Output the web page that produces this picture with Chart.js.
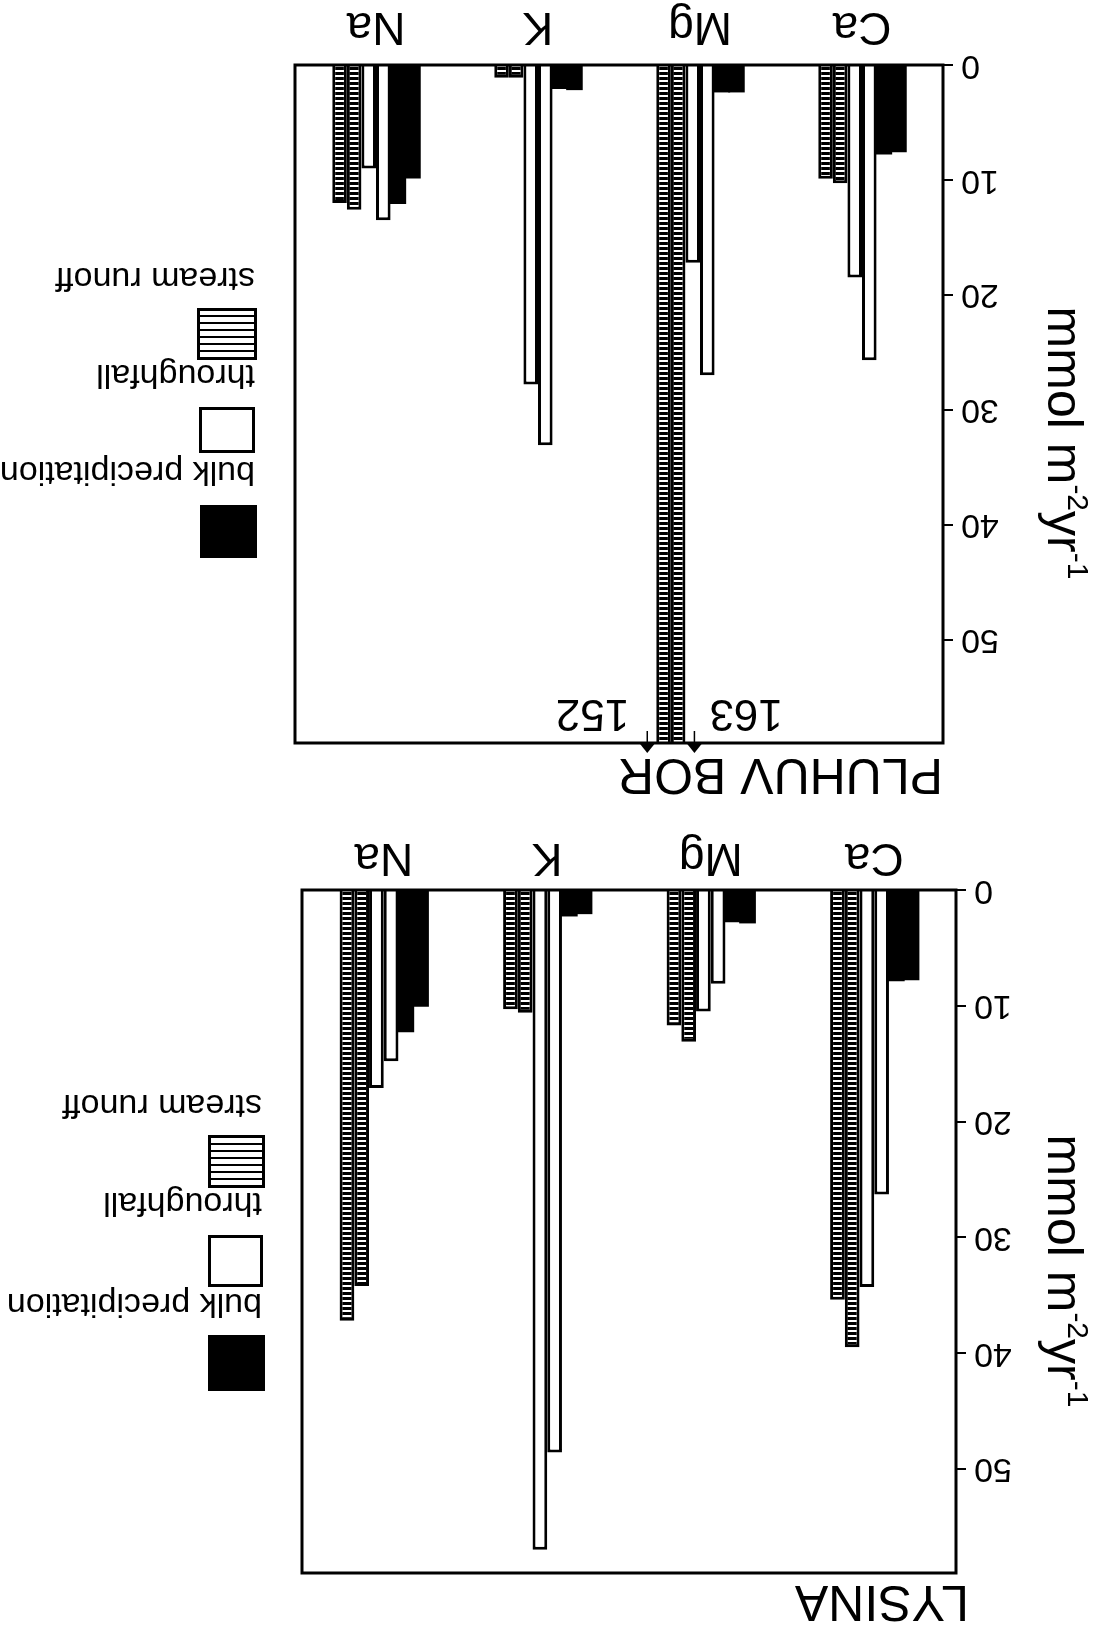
<!DOCTYPE html>
<html><head><meta charset="utf-8">
<script src="https://cdn.jsdelivr.net/npm/chart.js@4.4.1/dist/chart.umd.min.js"></script>
<style>
html,body{margin:0;padding:0;background:#fff;overflow:hidden;}
#page{position:relative;width:1098px;height:1633px;overflow:hidden;transform:rotate(180deg);transform-origin:50% 50%;background:#fff;font-family:"Liberation Sans",Arial,Helvetica,sans-serif;color:#000;}
.cv{position:absolute;}
.title{position:absolute;font-size:50px;line-height:50px;white-space:nowrap;}
.lg{position:absolute;font-size:34px;line-height:34px;white-space:nowrap;}
.box{position:absolute;box-sizing:border-box;border:3px solid #000;}
.blk{background:#000;}
.wht{background:#fff;}
.hat{background:repeating-linear-gradient(to bottom,#fff 0 5px,#000 5px 7px);}
</style></head>
<body>
<div id="page">
  <canvas id="c1" class="cv" style="left:0;top:0"></canvas>
  <canvas id="c2" class="cv" style="left:0;top:840px"></canvas>

  <div class="title" style="left:129px;top:5px">LYSINA</div>
  <div class="title" style="left:155px;top:832px">PLUHUV BOR</div>

  <!-- LYSINA legend -->
  <div class="box blk" style="left:833px;top:242px;width:57px;height:56px"></div>
  <div class="lg" style="left:836px;top:310px">bulk precipitation</div>
  <div class="box wht" style="left:835px;top:346px;width:55px;height:52px"></div>
  <div class="lg" style="left:836px;top:411px">throughfall</div>
  <div class="box hat" style="left:833px;top:445px;width:57px;height:53px"></div>
  <div class="lg" style="left:836px;top:509px">stream runoff</div>

  <!-- PLUHUV BOR legend -->
  <div class="box blk" style="left:841px;top:1075px;width:57px;height:53px"></div>
  <div class="lg" style="left:843px;top:1142px">bulk precipitation</div>
  <div class="box wht" style="left:843px;top:1180px;width:56px;height:46px"></div>
  <div class="lg" style="left:843px;top:1239px">throughfall</div>
  <div class="box hat" style="left:841px;top:1273px;width:60px;height:52px"></div>
  <div class="lg" style="left:843px;top:1336px">stream runoff</div>
</div>
<script>
// ---------------- data ----------------
const categories = ['Ca', 'Mg', 'K', 'Na'];
const seriesNames = ['bulk precipitation', 'throughfall', 'stream runoff'];
const valueTicks = [0, 10, 20, 30, 40, 50];
const axisMax = 59;
const unitText = ['mmol m', '-2', 'yr', '-1'];

// LYSINA (two bars per series)
const lysinaBulkA    = [7.7, 2.8, 2.0, 10.0];
const lysinaBulkB    = [7.8, 2.7, 2.2, 12.2];
const lysinaThroughA = [26.3, 8.1, 48.6, 14.8];
const lysinaThroughB = [34.3, 10.5, 57.0, 17.1];
const lysinaRunoffA  = [39.5, 13.1, 10.6, 34.2];
const lysinaRunoffB  = [35.4, 11.7, 10.3, 37.2];

// PLUHUV BOR
const pluhuvBulkA    = [7.5, 2.3, 2.1, 9.8];
const pluhuvBulkB    = [7.7, 2.3, 2.0, 12.0];
const pluhuvThroughA = [25.7, 27.0, 33.1, 13.5];
const pluhuvThroughB = [18.5, 17.2, 27.8, 9.0];
const pluhuvRunoffA  = [10.3, 163, 1.1, 12.6];
const pluhuvRunoffB  = [9.9, 152, 1.1, 12.0];

// ---------------- drawing ----------------
const FAM = '"Liberation Sans", Arial, Helvetica, sans-serif';

function makeHatch() {
  const c = document.createElement('canvas');
  c.width = 10; c.height = 5;
  const g = c.getContext('2d');
  g.fillStyle = '#000'; g.fillRect(0, 0, 10, 5);
  g.fillStyle = '#fff'; g.fillRect(0, 1, 10, 2);
  return g.createPattern(c, 'repeat');
}
const hatch = makeHatch();

function ds(label, data, fill) {
  const solid = (fill === '#000');
  return {
    label: label, data: data,
    backgroundColor: fill, borderColor: '#000', borderWidth: solid ? 0 : 3,
    inflateAmount: solid ? 1 : 0,
    borderSkipped: 'start', clip: 0,
    categoryPercentage: 0.54, barPercentage: 1.0
  };
}

const framePlugin = {
  id: 'frame',
  afterDatasetsDraw(chart, args, o) {
    const ctx = chart.ctx, a = chart.chartArea;
    ctx.save();
    ctx.strokeStyle = '#000';
    ctx.lineWidth = 3;
    ctx.strokeRect(a.left, a.top, a.right - a.left, a.bottom - a.top);
    // off-scale markers
    const yMax = chart.scales.y.max;
    chart.data.datasets.forEach((d, di) => {
      d.data.forEach((v, i) => {
        if (v <= yMax) return;
        const el = chart.getDatasetMeta(di).data[i];
        const leftSide = (di % 2 === 0);
        const ax = leftSide ? el.x - el.width / 2 - 9 : el.x + el.width / 2 + 9;
        ctx.fillStyle = '#000';
        ctx.beginPath();
        ctx.moveTo(ax - 8, a.top);
        ctx.lineTo(ax + 8, a.top);
        ctx.lineTo(ax, a.top - 10);
        ctx.closePath();
        ctx.fill();
        ctx.lineWidth = 1.5;
        ctx.beginPath();
        ctx.moveTo(ax, a.top);
        ctx.lineTo(ax, a.top + 12);
        ctx.stroke();
        ctx.font = '44px ' + FAM;
        ctx.textBaseline = 'middle';
        ctx.textAlign = leftSide ? 'right' : 'left';
        ctx.fillText(String(v), leftSide ? ax - 15 : ax + 18, a.top + 31);
      });
    });
    ctx.restore();
  },
  afterDraw(chart, args, o) {
    const ctx = chart.ctx;
    const u = chart.options.plugins.frame.unit;
    ctx.save();
    ctx.translate(u.x, u.y);
    ctx.rotate(-Math.PI / 2);
    ctx.fillStyle = '#000';
    ctx.textBaseline = 'alphabetic';
    ctx.textAlign = 'left';
    const big = '50px ' + FAM, small = '30px ' + FAM;
    const parts = unitText.map((t, i) => ({t: t, f: (i % 2 ? small : big), dy: (i % 2 ? -20 : 0)}));
    let total = 0;
    parts.forEach(p => { ctx.font = p.f; p.w = ctx.measureText(p.t).width; total += p.w; });
    let x = -total / 2;
    parts.forEach(p => { ctx.font = p.f; ctx.fillText(p.t, x, p.dy); x += p.w; });
    ctx.restore();
  }
};

function makeChart(id, W, H, area, sets, unit, xPad) {
  const cv = document.getElementById(id);
  cv.width = W; cv.height = H;
  cv.style.width = W + 'px'; cv.style.height = H + 'px';
  return new Chart(cv, {
    type: 'bar',
    data: {
      labels: categories,
      datasets: [
        ds(seriesNames[0], sets[0], '#000'),
        ds(seriesNames[0], sets[1], '#000'),
        ds(seriesNames[1], sets[2], '#fff'),
        ds(seriesNames[1], sets[3], '#fff'),
        ds(seriesNames[2], sets[4], hatch),
        ds(seriesNames[2], sets[5], hatch)
      ]
    },
    options: {
      responsive: false, animation: false, devicePixelRatio: 1,
      layout: { autoPadding: false, padding: { left: 0, top: area.top, right: W - area.right, bottom: 0 } },
      plugins: { legend: { display: false }, tooltip: { enabled: false }, frame: { unit: unit } },
      scales: {
        x: {
          grid: { display: false, drawTicks: false }, border: { display: false },
          ticks: { color: '#000', font: { family: FAM, size: 46 }, padding: xPad, maxRotation: 0 },
          afterFit: s => { s.height = H - area.bottom; }
        },
        y: {
          min: 0, max: axisMax,
          afterBuildTicks: s => { s.ticks = valueTicks.map(v => ({ value: v })); },
          grid: { drawOnChartArea: false, drawTicks: true, tickLength: 10, color: '#000', lineWidth: 2 },
          border: { display: false },
          ticks: { color: '#000', font: { family: FAM, size: 34 }, padding: 8 },
          afterFit: s => { s.width = area.left; }
        }
      }
    },
    plugins: [framePlugin]
  });
}

makeChart('c1', 820, 830, { left: 142, right: 796, top: 60, bottom: 743 },
  [lysinaBulkA, lysinaBulkB, lysinaThroughA, lysinaThroughB, lysinaRunoffA, lysinaRunoffB],
  { x: 50, y: 362 }, 6);

makeChart('c2', 830, 793, { left: 155, right: 803, top: 50, bottom: 728 },
  [pluhuvBulkA, pluhuvBulkB, pluhuvThroughA, pluhuvThroughB, pluhuvRunoffA, pluhuvRunoffB],
  { x: 50, y: 350 }, 12);
</script>
</body></html>
